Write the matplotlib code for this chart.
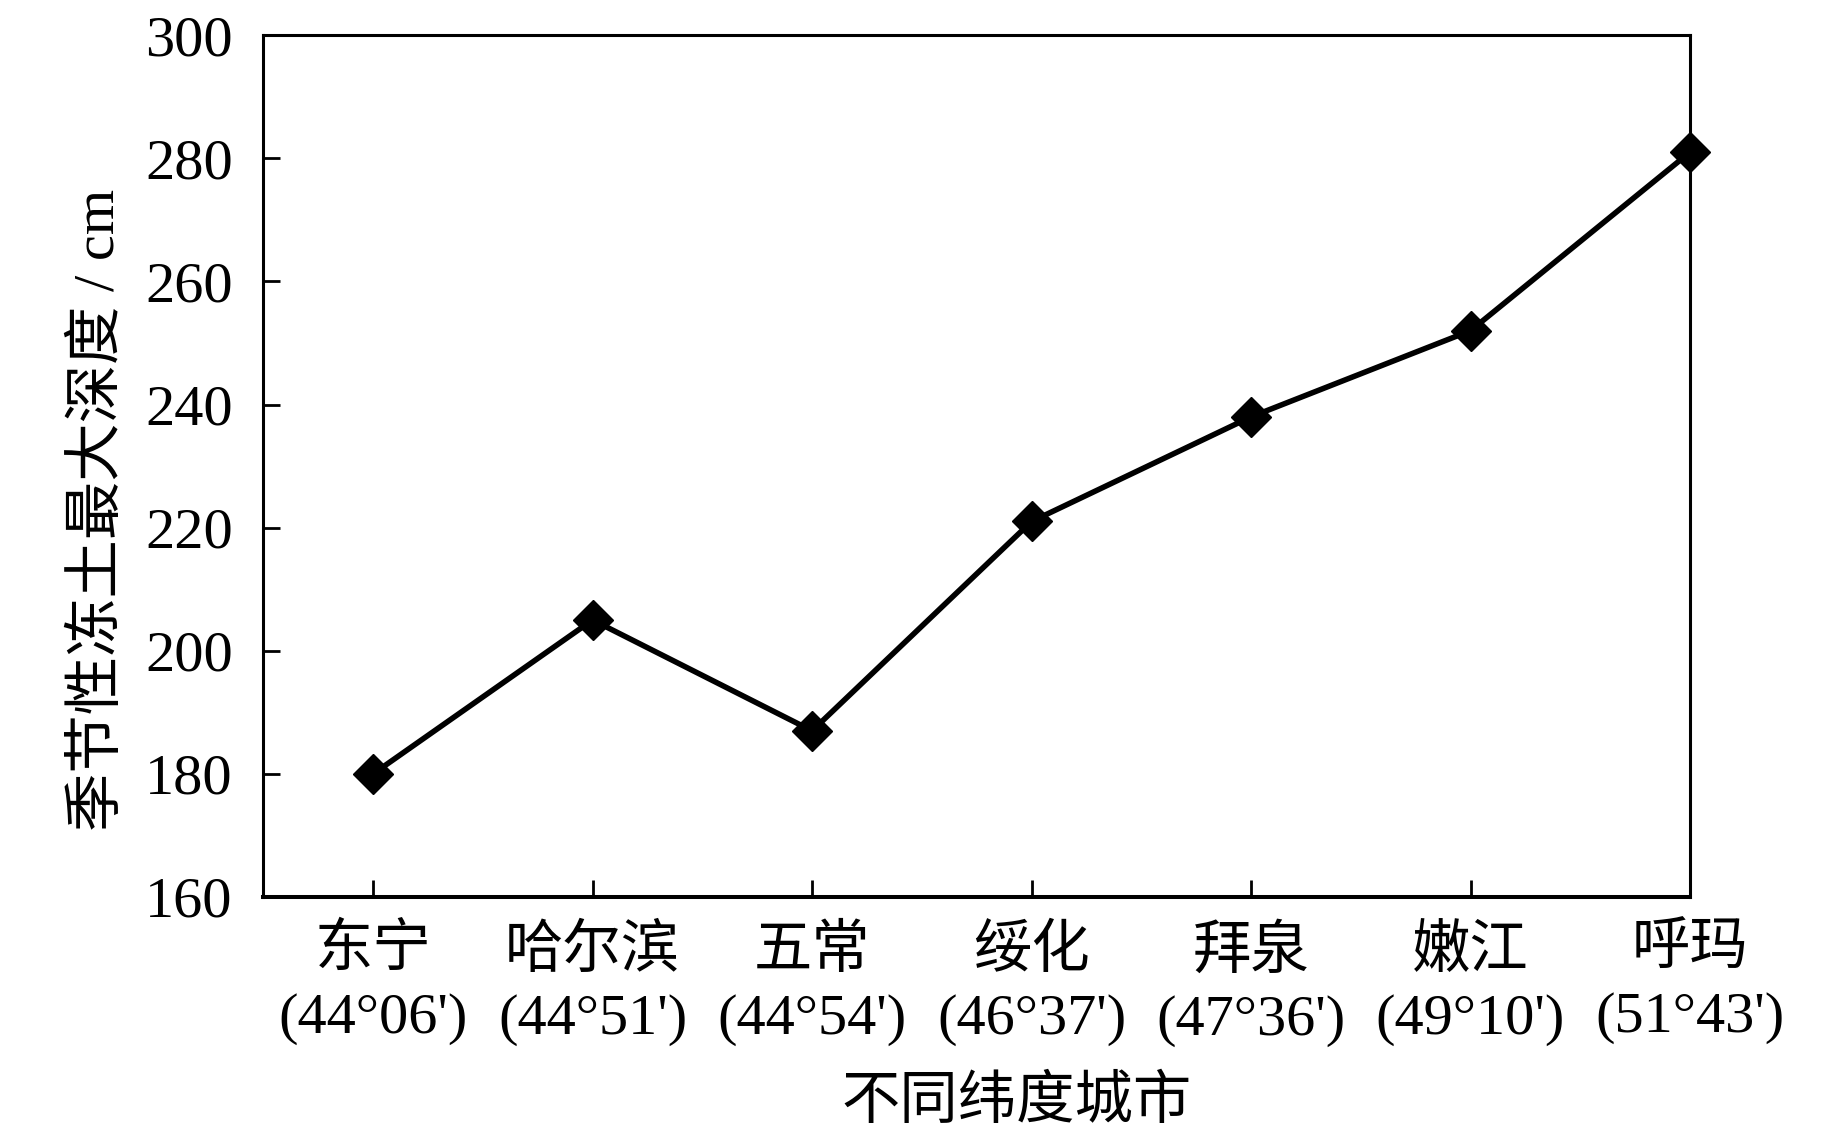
import numpy as np
import matplotlib
matplotlib.use('Agg')
import matplotlib.pyplot as plt

# frost depth per city (cm)
cities = ['东宁', '哈尔滨', '五常', '绥化', '拜泉', '嫩江', '呼玛']
latitudes = ["(44°06')", "(44°51')", "(44°54')", "(46°37')", "(47°36')", "(49°10')", "(51°43')"]
depth = [180, 205, 187, 221, 238, 252, 281]
yticks = [160, 180, 200, 220, 240, 260, 280, 300]

fam = ['Liberation Serif', 'Noto Sans CJK SC']
plt.rcParams['font.family'] = fam

fig = plt.figure(figsize=(18.43, 11.35), dpi=100)
ax = fig.add_axes([0.1429, 0.2097, 0.917 - 0.1429, 0.969 - 0.2097])

x = np.arange(len(cities))
ax.plot(x, depth, color='black', lw=4.0, marker='D', markersize=20,
        markerfacecolor='black', markeredgecolor='black', clip_on=False, zorder=3)

ax.set_xlim(-0.5, len(cities) - 1)
ax.set_ylim(160, 300)
ax.set_yticks(yticks)
ax.set_xticks(x)
ax.set_xticklabels([c + '\n' + l for c, l in zip(cities, latitudes)],
                   fontsize=42, linespacing=1.38)
ax.tick_params(axis='y', labelsize=42, direction='in', length=12, width=2.0, pad=22,
               right=False)
ax.tick_params(axis='x', direction='in', length=12, width=2.0, pad=20, top=False)
for sp in ['left', 'top', 'right']:
    ax.spines[sp].set_linewidth(2.2)
ax.spines['bottom'].set_linewidth(2.9)

ax.set_ylabel('季节性冻土最大深度 / cm', fontsize=42)
ax.yaxis.set_label_coords(-0.096, 0.449)
ax.set_xlabel('不同纬度城市', fontsize=42)
ax.xaxis.set_label_coords(0.528, -0.207)

fig.savefig('out.png', dpi=100)
